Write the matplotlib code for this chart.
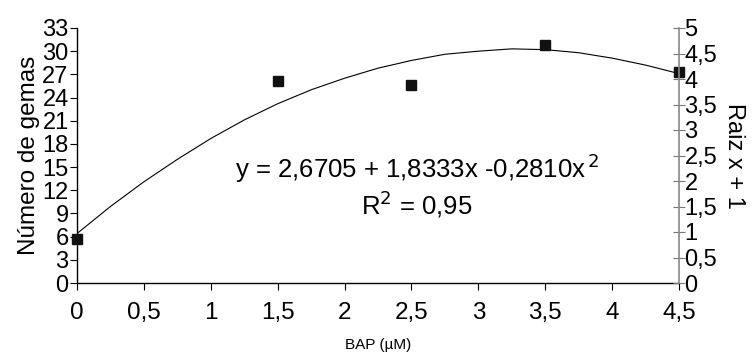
import matplotlib
matplotlib.use("Agg")
import matplotlib.pyplot as plt
import numpy as np

# data
bap = [0, 1.5, 2.5, 3.5, 4.5]
gemas = [5.7, 26.2, 25.6, 30.8, 27.3]

curve_x = [0, 0.25, 0.5, 0.75, 1.0, 1.25, 1.5, 1.75, 2.0, 2.25, 2.5, 2.75,
           3.0, 3.25, 3.5, 3.75, 4.0, 4.25, 4.5]
curve_y = [6.4, 9.9, 13.1, 16.0, 18.7, 21.1, 23.2, 25.0, 26.5, 27.8, 28.8, 29.6,
           30.0, 30.3, 30.2, 29.8, 29.1, 28.2, 27.1]

x_ticks = [0, 0.5, 1, 1.5, 2, 2.5, 3, 3.5, 4, 4.5]
left_ticks = [0, 3, 6, 9, 12, 15, 18, 21, 24, 27, 30, 33]
right_ticks = [0, 0.5, 1, 1.5, 2, 2.5, 3, 3.5, 4, 4.5, 5]

def comma(v):
    s = ("%g" % v)
    return s.replace(".", ",")

plt.rcParams['font.family'] = ['Liberation Sans', 'DejaVu Sans']

fig = plt.figure(figsize=(7.52, 3.54), dpi=100)
ax = fig.add_axes([77/752, 1-283/354, (679-77)/752, (283-28)/354])

ax.plot(curve_x, curve_y, color='black', lw=0.8, zorder=2)
ax.plot(bap, gemas, 's', color='#111111', markersize=7.5, clip_on=False, zorder=3)

ax.set_xlim(0, 4.5)
ax.set_ylim(0, 33)
ax.set_xticks(x_ticks)
ax.set_xticklabels([comma(v) for v in x_ticks], fontsize=17.5)
ax.set_yticks(left_ticks)
ax.set_yticklabels([comma(v) for v in left_ticks], fontsize=17)
ax.tick_params(axis='x', direction='out', length=5, width=0.8, pad=9)
ax.tick_params(axis='y', direction='out', length=5, width=0.8, pad=1)
ax.spines['top'].set_visible(False)
ax.spines['right'].set_visible(False)
for s in ['left', 'bottom']:
    ax.spines[s].set_linewidth(1.0)

ax.set_ylabel("Número de gemas", fontsize=17.5, labelpad=2)
ax.set_xlabel("BAP (µM)", fontsize=11, labelpad=10)

ax2 = ax.twinx()
ax2.set_ylim(0, 5)
ax2.set_yticks(right_ticks)
ax2.set_yticklabels([comma(v) for v in right_ticks], fontsize=17)
ax2.tick_params(axis='y', direction='inout', length=8, width=0.8, pad=0, color='#777777')
for s in ['top', 'left', 'bottom']:
    ax2.spines[s].set_visible(False)
ax2.spines['right'].set_color('#888888')
ax2.spines['right'].set_linewidth(1.2)
ax2.set_ylabel("Raiz x + 1", fontsize=17, rotation=-90, labelpad=20)

ax.text(0.565, 0.45, r"y = 2,6705 + 1,8333x -0,2810x$^{\,2}$", transform=ax.transAxes,
        fontsize=18.5, ha='center', va='center')
ax.text(0.565, 0.31, r"R$^{2}$ = 0,95", transform=ax.transAxes,
        fontsize=18.5, ha='center', va='center')

fig.savefig("out.png", dpi=100)
